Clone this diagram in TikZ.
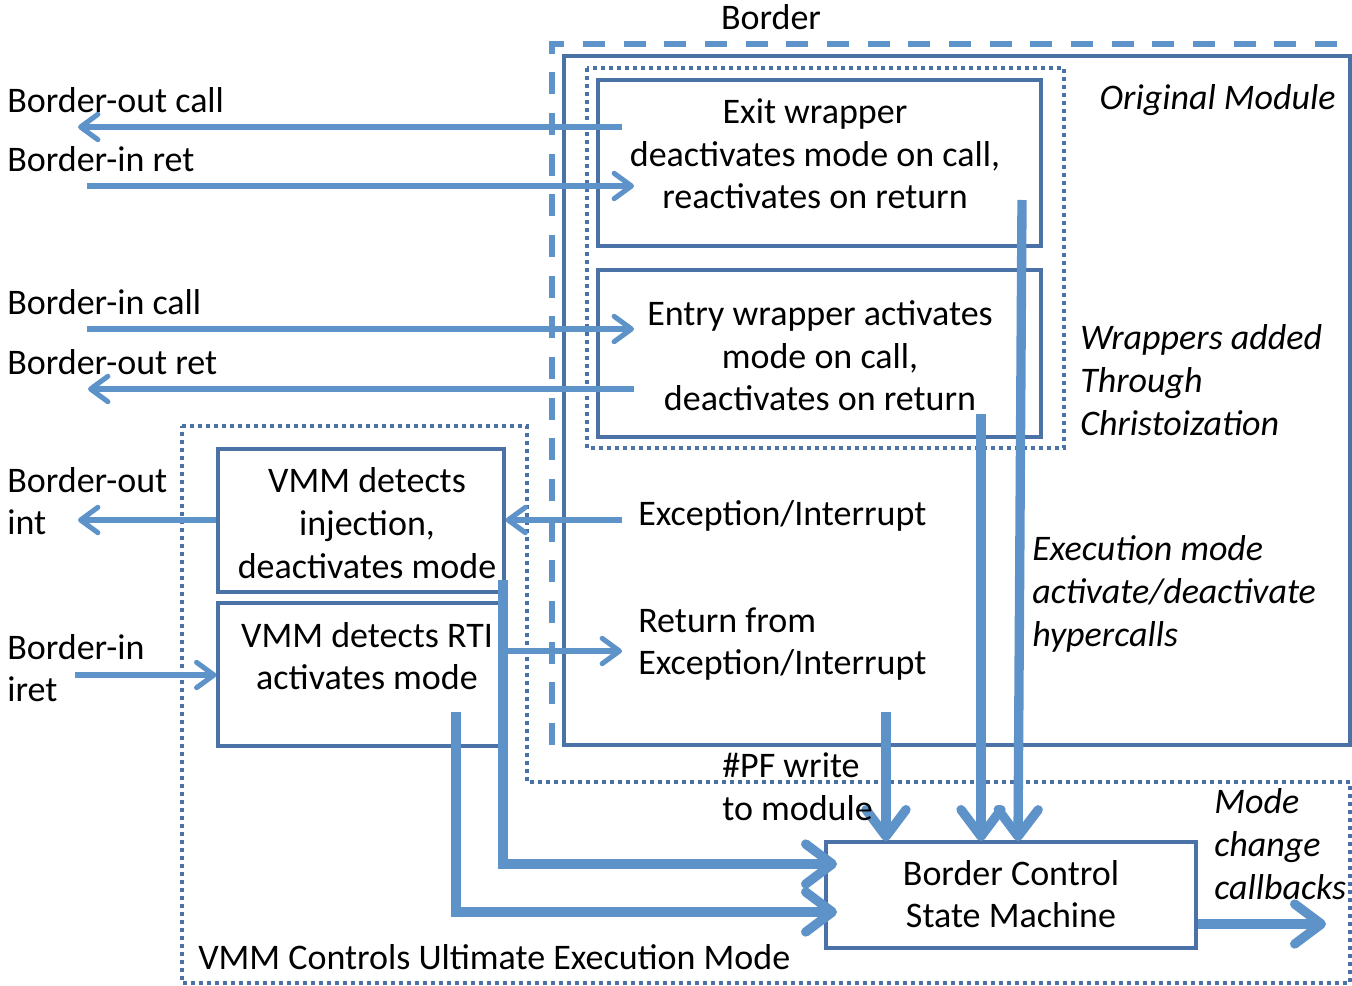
\documentclass[tikz,border=0pt]{standalone}
\usepackage{fontspec}
\setmainfont{Carlito}
\usetikzlibrary{arrows.meta}
\definecolor{lblue}{RGB}{94,147,201}
\definecolor{dblue}{RGB}{74,114,166}
\tikzset{
  txt/.style={font=\fontsize{27}{32}\selectfont, inner sep=0pt, align=left, text=black},
  ctxt/.style={txt, align=center},
  itxt/.style={txt, font=\fontsize{27}{32}\selectfont\itshape},
  box/.style={draw=dblue, line width=2.3pt, inner sep=0pt, fill=none},
  dotbox/.style={draw=dblue, line width=2.6pt, dash pattern=on 2.8pt off 3.2pt},
  dashbox/.style={draw=lblue, line width=3.8pt, dash pattern=on 16.5pt off 14pt},
  thinarrow/.style={draw=lblue, line width=3.8pt, -{Straight Barb[length=13pt,width=19pt,round]}},
  thickarrow/.style={draw=lblue, line width=7pt, -{Straight Barb[length=20pt,width=30pt,round]}},
}
\begin{document}
\begin{tikzpicture}[x=0.75pt,y=-0.75pt]
\useasboundingbox (0,0) rectangle (1352,985);

% containers
\draw[dashbox] (552,745) -- (552,44) -- (1352,44);
\node[box, minimum width=589.5pt, minimum height=516.75pt] (orig) at (957,400.5) {};
\draw[dotbox] (587,68) rectangle (1064,448);
\draw[dotbox] (182,426) -- (527,426) -- (527,782) -- (1350,782) -- (1350,983) -- (182,983) -- cycle;

% boxes
\node[box, minimum width=332.25pt, minimum height=124.5pt] (exit) at (819.5,163) {};
\node[box, minimum width=332.25pt, minimum height=125.25pt] (entry) at (819.5,353.5) {};
\node[box, minimum width=214.5pt, minimum height=107.25pt] (inj) at (361,520.5) {};
\node[box, minimum width=214.5pt, minimum height=107.25pt] (rti) at (361,674.5) {};
\node[box, minimum width=277.5pt, minimum height=79.5pt] (bcsm) at (1011,895) {};

% coordinates for free ends
\coordinate (a1s) at (622,127); \coordinate (a1e) at (78,127);
\coordinate (a2s) at (87,186);  \coordinate (a2e) at (634,186);
\coordinate (a3s) at (87,329);  \coordinate (a3e) at (634,329);
\coordinate (a4s) at (634,389); \coordinate (a4e) at (88,389);
\coordinate (a5e) at (78,520);
\coordinate (a6s) at (75,675);
\coordinate (a7s) at (622,520);
\coordinate (a8s) at (506,651); \coordinate (a8e) at (622,651);
\coordinate (t1) at (503,580); \coordinate (t1c) at (503,864); \coordinate (t1e) at (837,864);
\coordinate (t2) at (456,712); \coordinate (t2c) at (456,912); \coordinate (t2e) at (837,912);
\coordinate (t3) at (886,712); \coordinate (t3e) at (886,841);
\coordinate (t4) at (981,414); \coordinate (t4e) at (981,841);
\coordinate (t5) at (1022,200); \coordinate (t5e) at (1018,841);
\coordinate (t6e) at (1326,924);

% thin arrows
\draw[thinarrow] (a1s) -- (a1e);
\draw[thinarrow] (a2s) -- (a2e);
\draw[thinarrow] (a3s) -- (a3e);
\draw[thinarrow] (a4s) -- (a4e);
\draw[thinarrow] (inj.west |- a5e) -- (a5e);
\draw[thinarrow] (a6s) -- (rti.west |- a6s);
\draw[thinarrow] (a7s) -- (inj.east |- a7s);
\draw[thinarrow] (a8s) -- (a8e);

% thick arrows
\draw[thickarrow] (t1) -- (t1c) -- (t1e);
\draw[thickarrow] (t2) -- (t2c) -- (t2e);
\draw[thickarrow] (t3) -- (t3e);
\draw[thickarrow] (t4) -- (t4e);
\draw[thickarrow] (t5) -- (t5e);
\draw[thickarrow] (bcsm.east |- t6e) -- (t6e);

% box texts
\node[ctxt] (exittxt) at (815,154) {Exit wrapper\\deactivates mode on call,\\reactivates on return};
\node[ctxt] (entrytxt) at (820,356) {Entry wrapper activates\\mode on call,\\deactivates on return};
\node[ctxt] (injtxt) at (367,523) {VMM detects\\injection,\\deactivates mode};
\node[ctxt] (rtitxt) at (367,656) {VMM detects RTI\\activates mode};
\node[ctxt] (bcsmtxt) at (1011,894) {Border Control\\State Machine};

% labels
\node[ctxt] (border) at (771,17) {Border};
\node[itxt, anchor=east] (origlbl) at (1336,100) {Original Module};
\node[itxt, anchor=west] (wraplbl) at (1080,380) {Wrappers added\\Through\\Christoization};
\node[itxt, anchor=west] (execlbl) at (1032,594) {Execution mode\\activate/deactivate\\hypercalls};
\node[itxt, anchor=west] (modelbl) at (1214,844) {Mode\\change\\callbacks};
\node[txt, anchor=west] (exclbl) at (638,516) {Exception/Interrupt};
\node[txt, anchor=west] (retlbl) at (638,644) {Return from\\Exception/Interrupt};
\node[txt, anchor=west] (pflbl) at (722,787) {\#PF write\\to module};
\node[txt, anchor=west] (vmmlbl) at (198,957) {VMM Controls Ultimate Execution Mode};
\node[txt, anchor=west] (bocall) at (7,100) {Border-out call};
\node[txt, anchor=west] (biret) at (7,159) {Border-in ret};
\node[txt, anchor=west] (bicall) at (7,302) {Border-in call};
\node[txt, anchor=west] (boret) at (7,362) {Border-out ret};
\node[txt, anchor=west] (boint) at (7,501) {Border-out\\int};
\node[txt, anchor=west] (biiret) at (7,668) {Border-in\\iret};
\end{tikzpicture}
\end{document}
